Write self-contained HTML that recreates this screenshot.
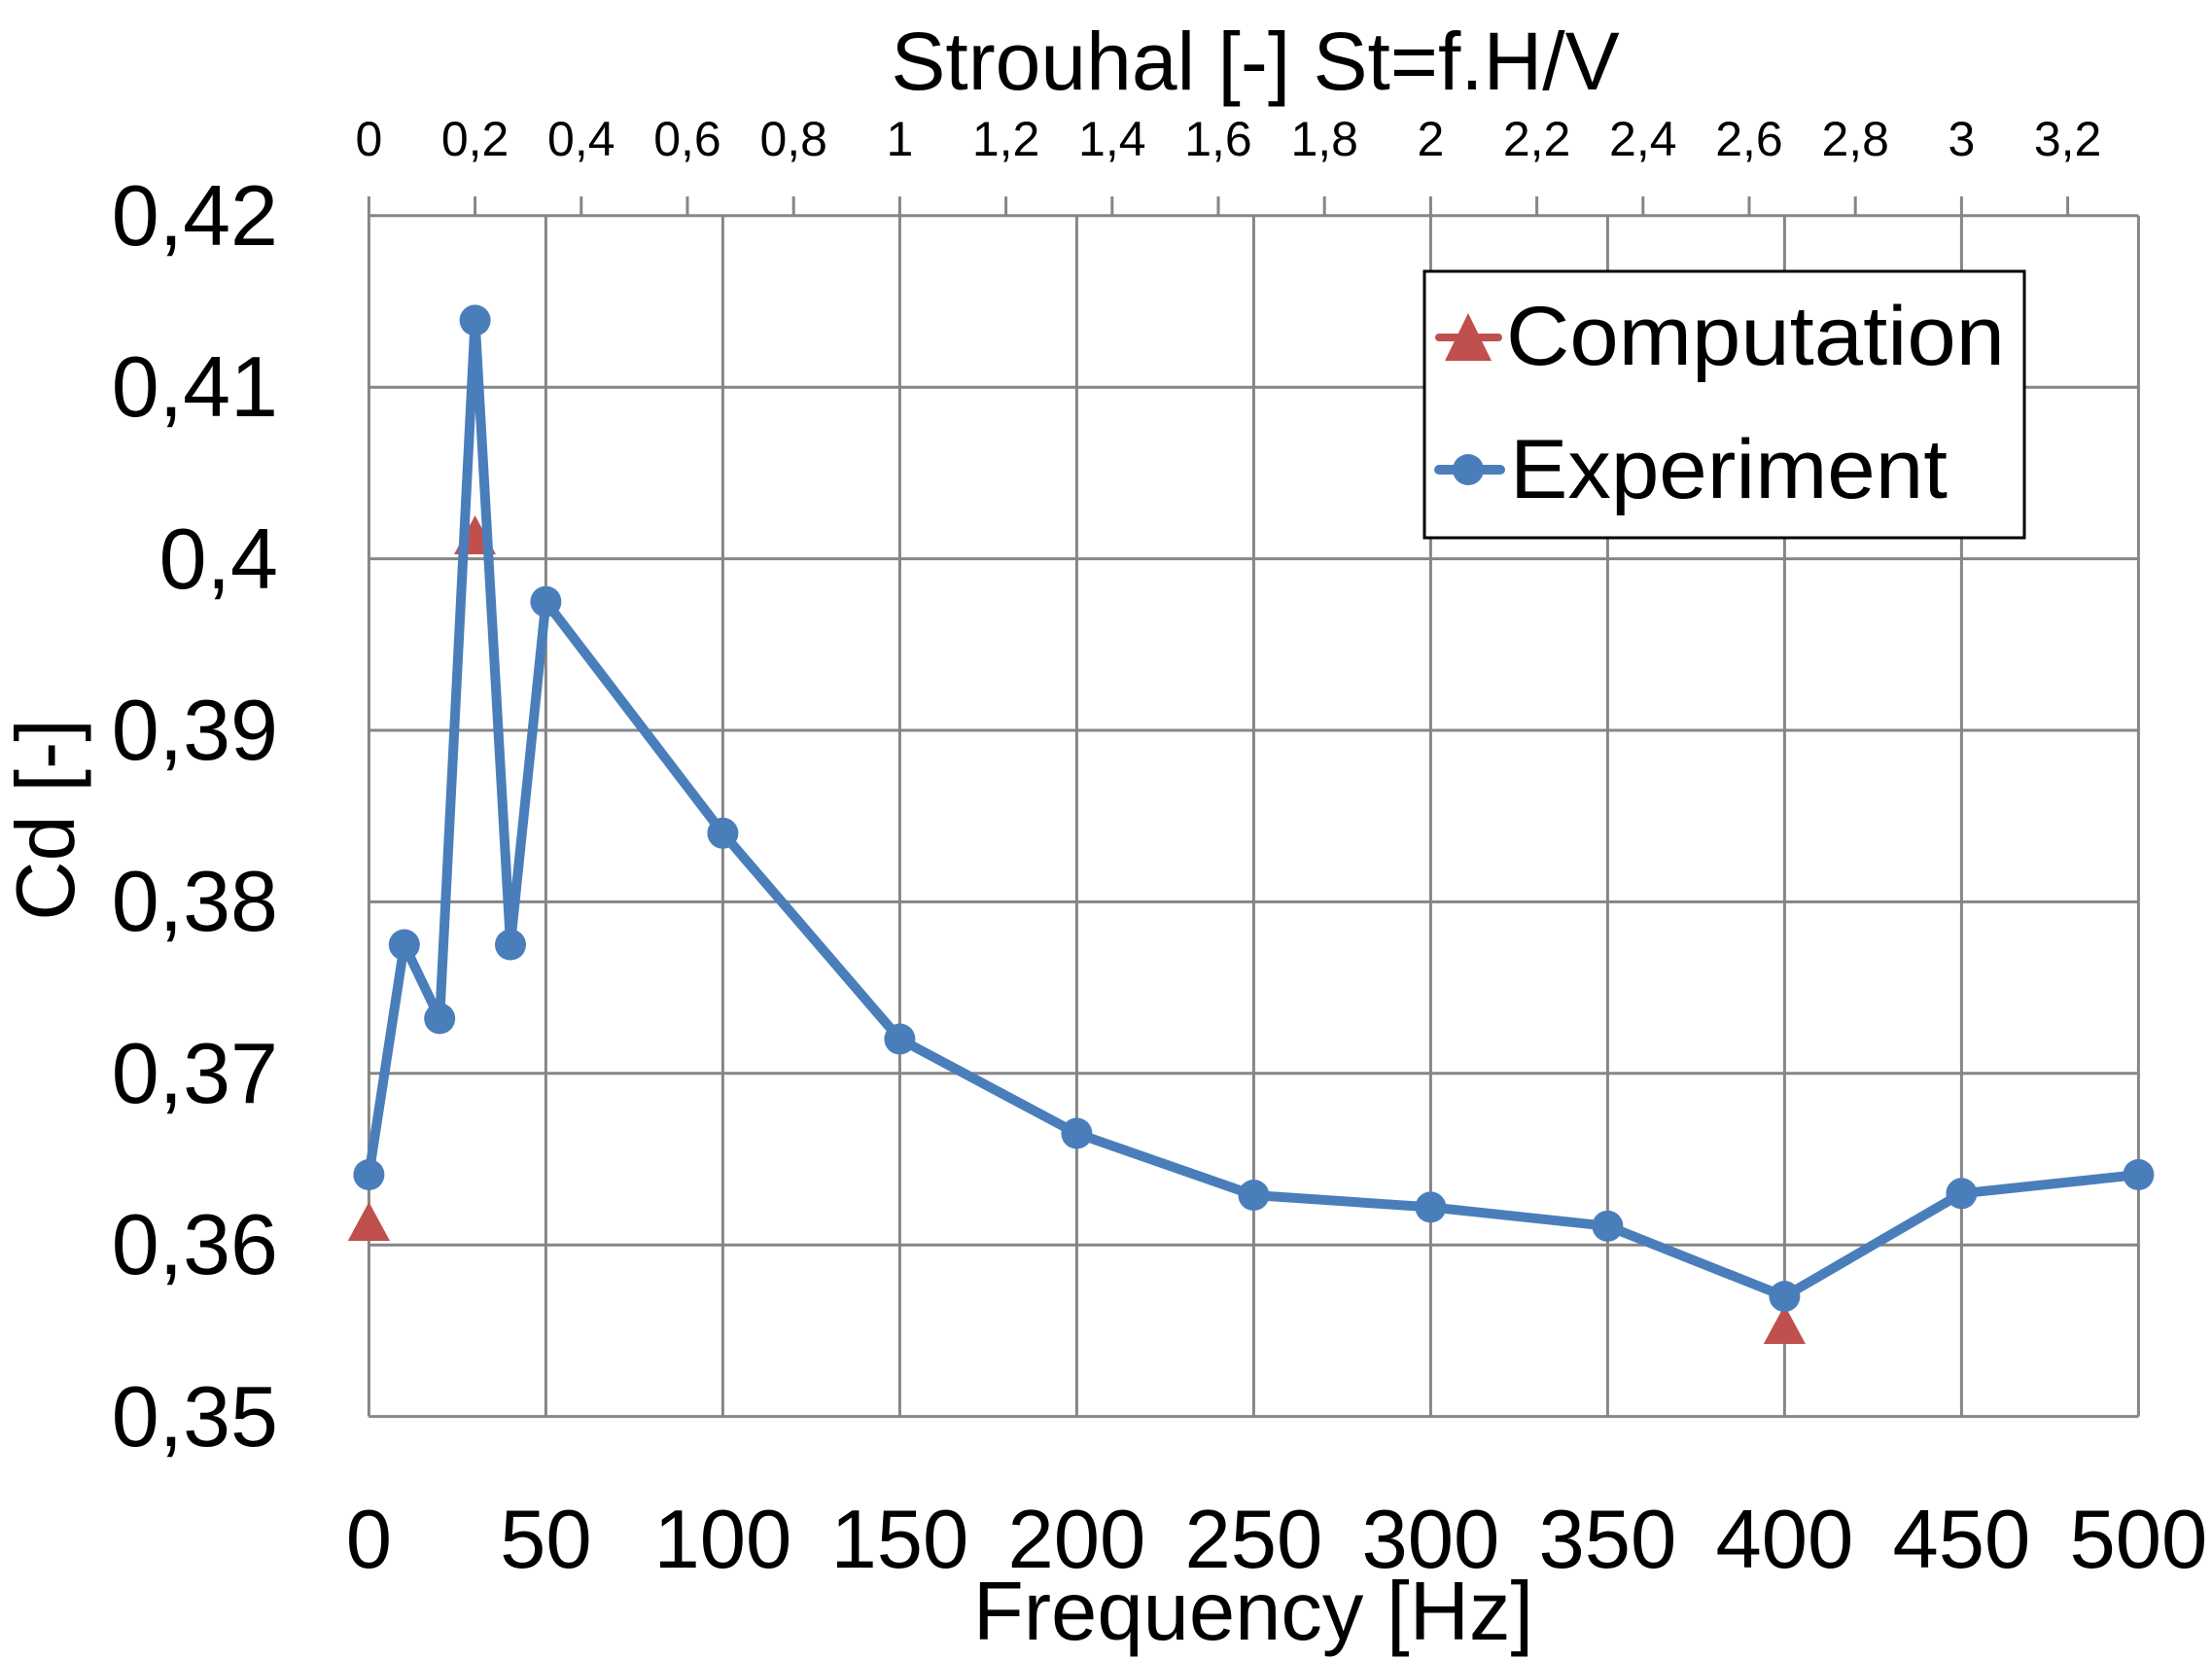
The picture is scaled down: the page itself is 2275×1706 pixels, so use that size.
<!DOCTYPE html>
<html><head><meta charset="utf-8"><style>
html,body{margin:0;padding:0;background:#fff;}
svg{display:block;}
text{font-family:"Liberation Sans",sans-serif;fill:#000;}
</style></head><body>
<svg width="2275" height="1706" viewBox="0 0 2275 1706" xmlns="http://www.w3.org/2000/svg">
<rect width="2275" height="1706" fill="#fff"/>
<g stroke="#868686" stroke-width="3" fill="none">
<line x1="379.4" y1="221.8" x2="2199.4" y2="221.8"/>
<line x1="379.4" y1="398.2" x2="2199.4" y2="398.2"/>
<line x1="379.4" y1="574.6" x2="2199.4" y2="574.6"/>
<line x1="379.4" y1="751" x2="2199.4" y2="751"/>
<line x1="379.4" y1="927.4" x2="2199.4" y2="927.4"/>
<line x1="379.4" y1="1103.8" x2="2199.4" y2="1103.8"/>
<line x1="379.4" y1="1280.2" x2="2199.4" y2="1280.2"/>
<line x1="379.4" y1="1456.6" x2="2199.4" y2="1456.6"/>
<line x1="379.4" y1="221.8" x2="379.4" y2="1456.6"/>
<line x1="561.4" y1="221.8" x2="561.4" y2="1456.6"/>
<line x1="743.4" y1="221.8" x2="743.4" y2="1456.6"/>
<line x1="925.4" y1="221.8" x2="925.4" y2="1456.6"/>
<line x1="1107.4" y1="221.8" x2="1107.4" y2="1456.6"/>
<line x1="1289.4" y1="221.8" x2="1289.4" y2="1456.6"/>
<line x1="1471.4" y1="221.8" x2="1471.4" y2="1456.6"/>
<line x1="1653.4" y1="221.8" x2="1653.4" y2="1456.6"/>
<line x1="1835.4" y1="221.8" x2="1835.4" y2="1456.6"/>
<line x1="2017.4" y1="221.8" x2="2017.4" y2="1456.6"/>
<line x1="2199.4" y1="221.8" x2="2199.4" y2="1456.6"/>
<path d="M379.4 202V222M488.6 202V222M597.8 202V222M707 202V222M816.2 202V222M925.4 202V222M1034.6 202V222M1143.8 202V222M1253 202V222M1362.2 202V222M1471.4 202V222M1580.6 202V222M1689.8 202V222M1799 202V222M1908.2 202V222M2017.4 202V222M2126.6 202V222"/>
</g>
<g font-size="50" text-anchor="middle">
<text x="379.4" y="160">0</text><text x="488.6" y="160">0,2</text><text x="597.8" y="160">0,4</text><text x="707" y="160">0,6</text><text x="816.2" y="160">0,8</text><text x="925.4" y="160">1</text><text x="1034.6" y="160">1,2</text><text x="1143.8" y="160">1,4</text><text x="1253" y="160">1,6</text><text x="1362.2" y="160">1,8</text><text x="1471.4" y="160">2</text><text x="1580.6" y="160">2,2</text><text x="1689.8" y="160">2,4</text><text x="1799" y="160">2,6</text><text x="1908.2" y="160">2,8</text><text x="2017.4" y="160">3</text><text x="2126.6" y="160">3,2</text>
</g>
<text x="1291" y="92" font-size="84" text-anchor="middle">Strouhal [-] St=f.H/V</text>
<g font-size="88" text-anchor="end">
<text x="286" y="252">0,42</text><text x="286" y="428">0,41</text><text x="286" y="605">0,4</text><text x="286" y="781">0,39</text><text x="286" y="957">0,38</text><text x="286" y="1134">0,37</text><text x="286" y="1310">0,36</text><text x="286" y="1487">0,35</text>
</g>
<text transform="translate(76,843) rotate(-90)" font-size="85" text-anchor="middle">Cd [-]</text>
<g font-size="85" text-anchor="middle">
<text x="379.4" y="1612">0</text><text x="561.4" y="1612">50</text><text x="743.4" y="1612">100</text><text x="925.4" y="1612">150</text><text x="1107.4" y="1612">200</text><text x="1289.4" y="1612">250</text><text x="1471.4" y="1612">300</text><text x="1653.4" y="1612">350</text><text x="1835.4" y="1612">400</text><text x="2017.4" y="1612">450</text><text x="2199.4" y="1612">500</text>
</g>
<text x="1289" y="1686" font-size="85" text-anchor="middle">Frequency [Hz]</text>
<g fill="#c0504d">
<polygon points="379.4,1236 401,1276 357.8,1276"/>
<polygon points="488.6,530 510,570 467,570"/>
<polygon points="1835.4,1342 1857,1382 1813.8,1382"/>
</g>
<polyline fill="none" stroke="#4a7ebb" stroke-width="10" stroke-linejoin="round" points="379.4,1208 415.8,971.5 452.2,1047.4 488.6,329.4 525,971.5 561.4,618.7 743.4,856.8 925.4,1068.5 1107.4,1165.5 1289.4,1229 1471.4,1241.4 1653.4,1260.8 1835.4,1333.1 2017.4,1227.3 2199.4,1208"/>
<g fill="#4a7ebb">
<circle cx="379.4" cy="1208" r="16"/><circle cx="415.8" cy="971.5" r="16"/><circle cx="452.2" cy="1047.4" r="16"/><circle cx="488.6" cy="329.4" r="16"/><circle cx="525" cy="971.5" r="16"/><circle cx="561.4" cy="618.7" r="16"/><circle cx="743.4" cy="856.8" r="16"/><circle cx="925.4" cy="1068.5" r="16"/><circle cx="1107.4" cy="1165.5" r="16"/><circle cx="1289.4" cy="1229" r="16"/><circle cx="1471.4" cy="1241.4" r="16"/><circle cx="1653.4" cy="1260.8" r="16"/><circle cx="1835.4" cy="1333.1" r="16"/><circle cx="2017.4" cy="1227.3" r="16"/><circle cx="2199.4" cy="1208" r="16"/>
</g>
<rect x="1465" y="279" width="617" height="274" fill="#fff" stroke="#000" stroke-width="3"/>
<line x1="1480" y1="347" x2="1541" y2="347" stroke="#c0504d" stroke-width="8" stroke-linecap="round"/>
<polygon points="1510,322 1534,371 1486,371" fill="#c0504d"/>
<line x1="1480" y1="483" x2="1543" y2="483" stroke="#4a7ebb" stroke-width="10" stroke-linecap="round"/>
<circle cx="1510" cy="483" r="16" fill="#4a7ebb"/>
<text x="1549" y="375" font-size="86" textLength="513" lengthAdjust="spacingAndGlyphs">Computation</text>
<text x="1553" y="512" font-size="86" textLength="450" lengthAdjust="spacingAndGlyphs">Experiment</text>
</svg>
</body></html>
